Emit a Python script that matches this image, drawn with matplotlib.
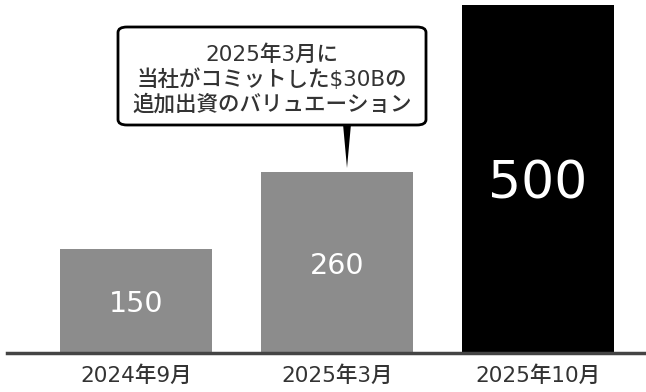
import matplotlib.pyplot as plt
from matplotlib.patches import FancyBboxPatch, Polygon

plt.rcParams['font.family'] = ['DejaVu Sans', 'Noto Sans CJK JP']

# valuation by round
periods = ['2024年9月', '2025年3月', '2025年10月']
values = [150, 260, 500]
bar_colors = ['#8c8c8c', '#8c8c8c', '#000000']
label_sizes = [20.5, 20.5, 37.5]
note = '2025年3月に\n当社がコミットした$30Bの\n追加出資のバリュエーション'

fig = plt.figure(figsize=(6.46, 3.92), dpi=100)
W, H = 646, 392
ax = fig.add_axes([7 / W, 39 / H, 639 / W, 348 / H])

x = list(range(len(values)))
ax.bar(x, values, width=0.756, color=bar_colors, zorder=2)
for xi, v, fs in zip(x, values, label_sizes):
    ax.text(xi, v / 2, str(v), ha='center', va='center_baseline', color='white',
            fontsize=fs, zorder=3)

ax.set_xlim(-0.642, 2.537)
ax.set_ylim(0, 500)
ax.set_xticks(x)
ax.set_xticklabels(periods, fontsize=15.5, color='#333333', fontweight='medium')
ax.tick_params(axis='x', length=0, pad=9)
ax.set_yticks([])
for s in ['top', 'left', 'right']:
    ax.spines[s].set_visible(False)
ax.spines['bottom'].set_color('#444444')
ax.spines['bottom'].set_linewidth(2.5)

# speech bubble pointing at the March 2025 bar (figure pixel coords)
def px(xp, yp):
    return (xp / W, 1 - yp / H)

bx0, by0 = px(118, 125)
bx1, by1 = px(426, 27)
box = FancyBboxPatch((bx0, by0), bx1 - bx0, by1 - by0,
                     boxstyle='round,pad=0,rounding_size=0.014',
                     transform=fig.transFigure, facecolor='white',
                     edgecolor='black', linewidth=2, zorder=5)
fig.add_artist(box)
tip = Polygon([px(343, 124), px(351, 124), px(347, 168)], closed=True,
              transform=fig.transFigure, facecolor='black', edgecolor='none',
              zorder=5)
fig.add_artist(tip)
fig.text(272 / W, 1 - 79 / H, note, ha='center', va='center', fontsize=15.5,
         color='#333333', fontweight='medium', linespacing=1.22, zorder=6)

fig.savefig('out.png', dpi=100)
